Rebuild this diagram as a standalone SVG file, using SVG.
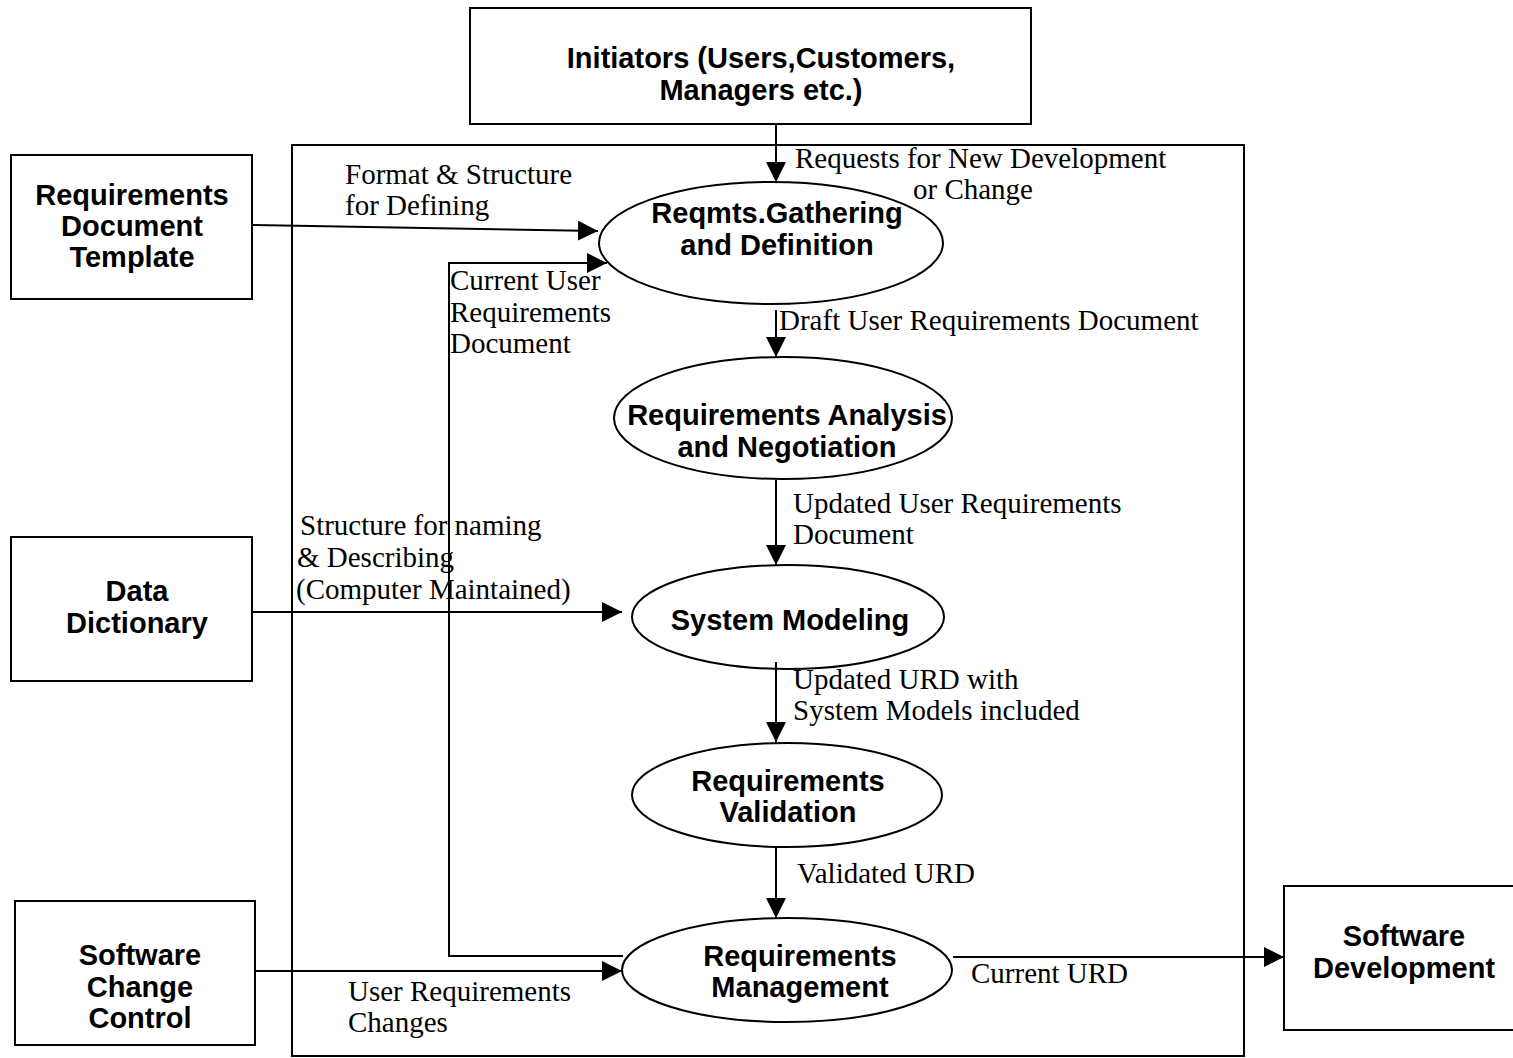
<svg xmlns="http://www.w3.org/2000/svg" width="1513" height="1058" viewBox="0 0 1513 1058">
  <defs>
    <marker id="arrow" markerUnits="userSpaceOnUse" markerWidth="22" markerHeight="22" refX="20" refY="10" orient="auto">
      <path d="M0,0 L20,10 L0,20 z" fill="#000"/>
    </marker>
    <style>
      .box { fill: #fff; stroke: #000; stroke-width: 2; }
      .frame { fill: none; stroke: #000; stroke-width: 2; }
      .proc { fill: #fff; stroke: #000; stroke-width: 2; }
      .title { font-family: "Liberation Sans", Arial, sans-serif; font-weight: bold; font-size: 29px; fill: #000; text-anchor: middle; }
      .label { font-family: "Liberation Serif", "Times New Roman", serif; font-size: 29px; fill: #000; }
      .flow { fill: none; stroke: #000; stroke-width: 2; }
    </style>
  </defs>
  <rect width="1513" height="1058" fill="#fff"/>

  <!-- system boundary -->
  <rect id="boundary" class="frame" x="292" y="145" width="952" height="911"/>

  <!-- external entities -->
  <g id="initiators">
    <rect class="box" x="470" y="8" width="561" height="116"/>
    <text class="title" x="761" y="68">Initiators (Users,Customers,</text>
    <text class="title" x="761" y="100">Managers etc.)</text>
  </g>
  <g id="template">
    <rect class="box" x="11" y="155" width="241" height="144"/>
    <text class="title" x="132" y="205">Requirements</text>
    <text class="title" x="132" y="236">Document</text>
    <text class="title" x="132" y="267">Template</text>
  </g>
  <g id="data-dictionary">
    <rect class="box" x="11" y="537" width="241" height="144"/>
    <text class="title" x="137" y="601">Data</text>
    <text class="title" x="137" y="633">Dictionary</text>
  </g>
  <g id="change-control">
    <rect class="box" x="15" y="901" width="240" height="144"/>
    <text class="title" x="140" y="965">Software</text>
    <text class="title" x="140" y="997">Change</text>
    <text class="title" x="140" y="1028">Control</text>
  </g>
  <g id="software-development">
    <rect class="box" x="1284" y="886" width="240" height="144"/>
    <text class="title" x="1404" y="946">Software</text>
    <text class="title" x="1404" y="978">Development</text>
  </g>

  <!-- processes -->
  <g id="gathering">
    <ellipse class="proc" cx="771" cy="243" rx="172" ry="61"/>
    <text class="title" x="777" y="223">Reqmts.Gathering</text>
    <text class="title" x="777" y="255">and Definition</text>
  </g>
  <g id="analysis">
    <ellipse class="proc" cx="783" cy="418" rx="169" ry="61"/>
    <text class="title" x="787" y="425">Requirements Analysis</text>
    <text class="title" x="787" y="457">and Negotiation</text>
  </g>
  <g id="modeling">
    <ellipse class="proc" cx="788" cy="617" rx="156" ry="52"/>
    <text class="title" x="790" y="630">System Modeling</text>
  </g>
  <g id="validation">
    <ellipse class="proc" cx="787" cy="795" rx="155" ry="52"/>
    <text class="title" x="788" y="791">Requirements</text>
    <text class="title" x="788" y="822">Validation</text>
  </g>
  <g id="management">
    <ellipse class="proc" cx="787" cy="970" rx="165" ry="52"/>
    <text class="title" x="800" y="966">Requirements</text>
    <text class="title" x="800" y="997">Management</text>
  </g>

  <!-- data flows -->
  <g id="connectors">
    <line class="flow" x1="776" y1="124" x2="776" y2="182" marker-end="url(#arrow)"/>
    <line class="flow" x1="252" y1="225" x2="598" y2="231" marker-end="url(#arrow)"/>
    <polyline class="flow" points="623,956 449,956 449,263 607,263" marker-end="url(#arrow)"/>
    <line class="flow" x1="776" y1="310" x2="776" y2="357" marker-end="url(#arrow)"/>
    <line class="flow" x1="776" y1="480" x2="776" y2="565" marker-end="url(#arrow)"/>
    <line class="flow" x1="252" y1="612" x2="622" y2="612" marker-end="url(#arrow)"/>
    <line class="flow" x1="776" y1="662" x2="776" y2="742" marker-end="url(#arrow)"/>
    <line class="flow" x1="776" y1="848" x2="776" y2="918" marker-end="url(#arrow)"/>
    <line class="flow" x1="255" y1="971" x2="622" y2="971" marker-end="url(#arrow)"/>
    <line class="flow" x1="953" y1="957" x2="1284" y2="957" marker-end="url(#arrow)"/>
  </g>

  <!-- flow labels -->
  <g id="flow-labels">
    <text class="label" x="795" y="168">Requests for New Development</text>
    <text class="label" x="913" y="199">or Change</text>
    <text class="label" x="345" y="184">Format &amp; Structure</text>
    <text class="label" x="345" y="215">for Defining</text>
    <text class="label" x="450" y="290">Current User</text>
    <text class="label" x="450" y="322">Requirements</text>
    <text class="label" x="450" y="353">Document</text>
    <text class="label" x="779" y="330">Draft User Requirements Document</text>
    <text class="label" x="793" y="513">Updated User Requirements</text>
    <text class="label" x="793" y="544">Document</text>
    <text class="label" x="300" y="535">Structure for naming</text>
    <text class="label" x="297" y="567">&amp; Describing</text>
    <text class="label" x="296" y="599">(Computer Maintained)</text>
    <text class="label" x="793" y="689">Updated URD with</text>
    <text class="label" x="793" y="720">System Models included</text>
    <text class="label" x="797" y="883">Validated URD</text>
    <text class="label" x="348" y="1001">User Requirements</text>
    <text class="label" x="348" y="1032">Changes</text>
    <text class="label" x="971" y="983">Current URD</text>
  </g>
</svg>
